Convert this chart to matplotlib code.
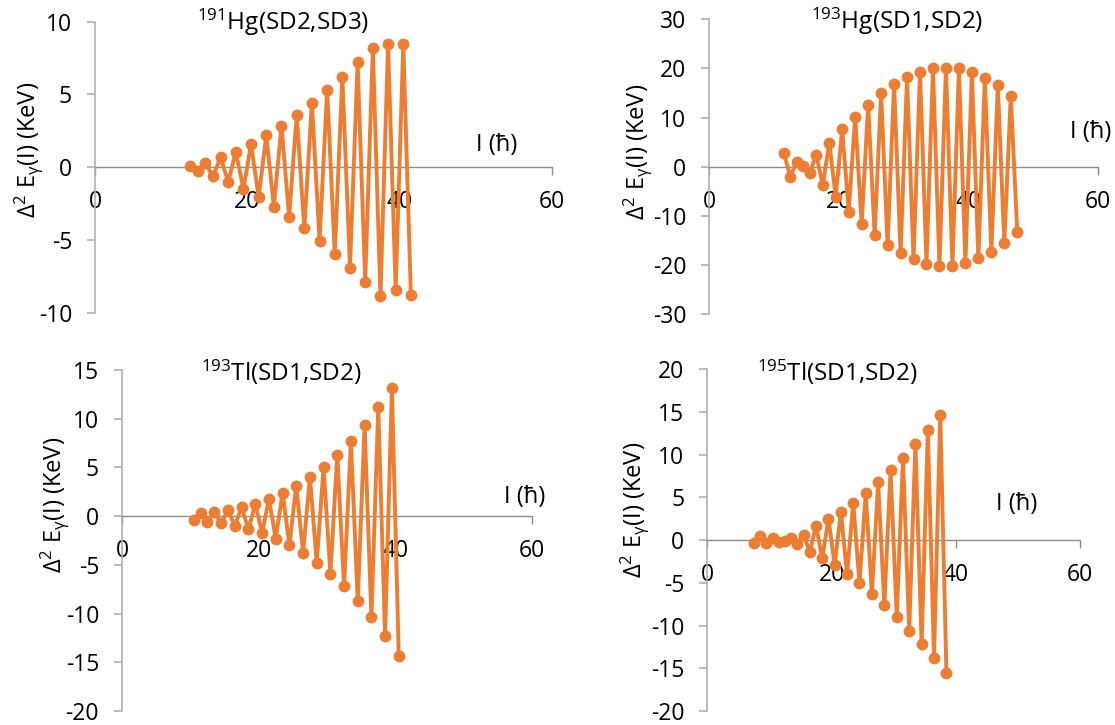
#plot.py
#Delta2 E_gamma staggering for four superdeformed band pairs, 2x2 panels

import matplotlib
matplotlib.use("Agg")
import matplotlib.pyplot as plt

plt.rcParams['font.family'] = ['Open Sans', 'DejaVu Sans']
plt.rcParams['mathtext.fontset'] = 'custom'
plt.rcParams['mathtext.rm'] = 'Open Sans'
plt.rcParams['mathtext.it'] = 'Open Sans:italic'
plt.rcParams['mathtext.bf'] = 'Open Sans:bold'
plt.rcParams['axes.unicode_minus'] = False

# spins (hbar) and staggering values (keV)
spin_hg191 = [12.5, 13.5, 14.5, 15.5, 16.5, 17.5, 18.5, 19.5, 20.5, 21.5,
              22.5, 23.5, 24.5, 25.5, 26.5, 27.5, 28.5, 29.5, 30.5, 31.5,
              32.5, 33.5, 34.5, 35.5, 36.5, 37.5, 38.5, 39.5, 40.5, 41.5]
d2e_hg191 = [0.07, -0.28, 0.28, -0.62, 0.67, -1.0, 1.06, -1.49, 1.59, -2.07,
             2.19, -2.71, 2.86, -3.4, 3.59, -4.2, 4.44, -5.06, 5.31, -5.98,
             6.23, -6.9, 7.2, -7.86, 8.19, -8.87, 8.46, -8.41, 8.46, -8.78]

spin_hg193 = [11.5, 12.5, 13.5, 14.5, 15.5, 16.5, 17.5, 18.5, 19.5, 20.5,
              21.5, 22.5, 23.5, 24.5, 25.5, 26.5, 27.5, 28.5, 29.5, 30.5,
              31.5, 32.5, 33.5, 34.5, 35.5, 36.5, 37.5, 38.5, 39.5, 40.5,
              41.5, 42.5, 43.5, 44.5, 45.5, 46.5, 47.5]
d2e_hg193 = [2.73, -2.04, 1.01, 0.14, -1.22, 2.38, -3.8, 4.89, -6.1, 7.61,
             -9.15, 10.18, -11.67, 12.62, -13.97, 14.94, -16.01, 16.84, -17.64, 18.19,
             -18.86, 19.35, -19.88, 20.02, -20.22, 20.17, -20.22, 20.02, -19.68, 19.19,
             -18.7, 17.99, -17.37, 16.53, -15.61, 14.37, -13.28]

spin_tl193 = [10.5, 11.5, 12.5, 13.5, 14.5, 15.5, 16.5, 17.5, 18.5, 19.5,
              20.5, 21.5, 22.5, 23.5, 24.5, 25.5, 26.5, 27.5, 28.5, 29.5,
              30.5, 31.5, 32.5, 33.5, 34.5, 35.5, 36.5, 37.5, 38.5, 39.5, 40.5]
d2e_tl193 = [-0.37, 0.28, -0.55, 0.41, -0.74, 0.62, -0.98, 0.92, -1.36, 1.26,
             -1.74, 1.78, -2.31, 2.39, -2.97, 3.13, -3.75, 4.03, -4.77, 5.05,
             -5.93, 6.31, -7.22, 7.74, -8.76, 9.37, -10.4, 11.19, -12.3, 13.16, -14.35]

spin_tl195 = [7.5, 8.5, 9.5, 10.5, 11.5, 12.5, 13.5, 14.5, 15.5, 16.5,
              17.5, 18.5, 19.5, 20.5, 21.5, 22.5, 23.5, 24.5, 25.5, 26.5,
              27.5, 28.5, 29.5, 30.5, 31.5, 32.5, 33.5, 34.5, 35.5, 36.5, 37.5, 38.5]
d2e_tl195 = [-0.35, 0.47, -0.35, 0.2, -0.19, -0.12, 0.2, -0.42, 0.66, -1.43,
             1.71, -2.13, 2.48, -2.91, 3.29, -3.99, 4.34, -5.04, 5.47, -6.28,
             6.79, -7.59, 8.18, -8.99, 9.65, -10.58, 11.24, -12.16, 12.91, -13.84,
             14.62, -15.58]

titles = [r'$^{191}$Hg(SD2,SD3)', r'$^{193}$Hg(SD1,SD2)',
          r'$^{193}$Tl(SD1,SD2)', r'$^{195}$Tl(SD1,SD2)']
ylims = [(-10, 10), (-30, 30), (-20, 15), (-20, 20)]
ysteps = [5, 10, 5, 5]

W, H = 1115, 725
fig = plt.figure(figsize=(W / 100, H / 100), dpi=100)

# axes boxes in pixels: left, top, right, bottom
boxes = [(95, 21.7, 551.7, 312.7), (709.3, 19.3, 1098.3, 314),
         (122, 370, 532, 711), (707.3, 369.3, 1080, 711)]
title_pos = [(283, 22), (897, 21), (281, 372), (837, 372)]
ylab_pos = [(29, 150), (638, 152), (55, 505), (635, 510)]
xlab_pos = [(497, 145), (1091, 132), (525, 497), (1017, 504)]

data = [(spin_hg191, d2e_hg191), (spin_hg193, d2e_hg193),
        (spin_tl193, d2e_tl193), (spin_tl195, d2e_tl195)]

orange = '#ED7D31'
for i in range(4):
    l, t, r, b = boxes[i]
    ax = fig.add_axes([l / W, 1 - b / H, (r - l) / W, (b - t) / H])
    x, y = data[i]
    ax.plot(x, y, color=orange, lw=2.8, marker='o', ms=7.5, clip_on=False, zorder=3)
    ax.set_xlim(0, 60)
    ax.set_ylim(*ylims[i])
    ax.set_xticks([0, 20, 40, 60])
    lo, hi = ylims[i]
    ax.set_yticks(list(range(lo, hi + 1, ysteps[i])))
    ax.spines['top'].set_visible(False)
    ax.spines['right'].set_visible(False)
    ax.spines['bottom'].set_position(('data', 0))
    ax.spines['bottom'].set_color('#8c8c8c')
    ax.spines['left'].set_color('#b0b0b0')
    ax.spines['bottom'].set_linewidth(1.0)
    ax.spines['left'].set_linewidth(1.2)
    ax.tick_params(axis='x', direction='out', length=5.5, width=1.0,
                   color='#8c8c8c', pad=11, labelsize=16.5)
    ax.tick_params(axis='y', direction='out', length=5.5, width=1.2,
                   color='#b0b0b0', pad=11, labelsize=16.5)
    ax.patch.set_visible(False)

    tx, ty = title_pos[i]
    fig.text(tx / W, 1 - ty / H, titles[i], ha='center', va='center', fontsize=17.5)
    yx, yy = ylab_pos[i]
    fig.text(yx / W, 1 - yy / H, r'Δ$^2$ E$_{\mathrm{\gamma}}$(I) (KeV)',
             ha='center', va='center', rotation=90, fontsize=17)
    xx, xy = xlab_pos[i]
    fig.text(xx / W, 1 - xy / H, 'I (ħ)', ha='center', va='center', fontsize=17)

plt.savefig("out.png", dpi=100)
